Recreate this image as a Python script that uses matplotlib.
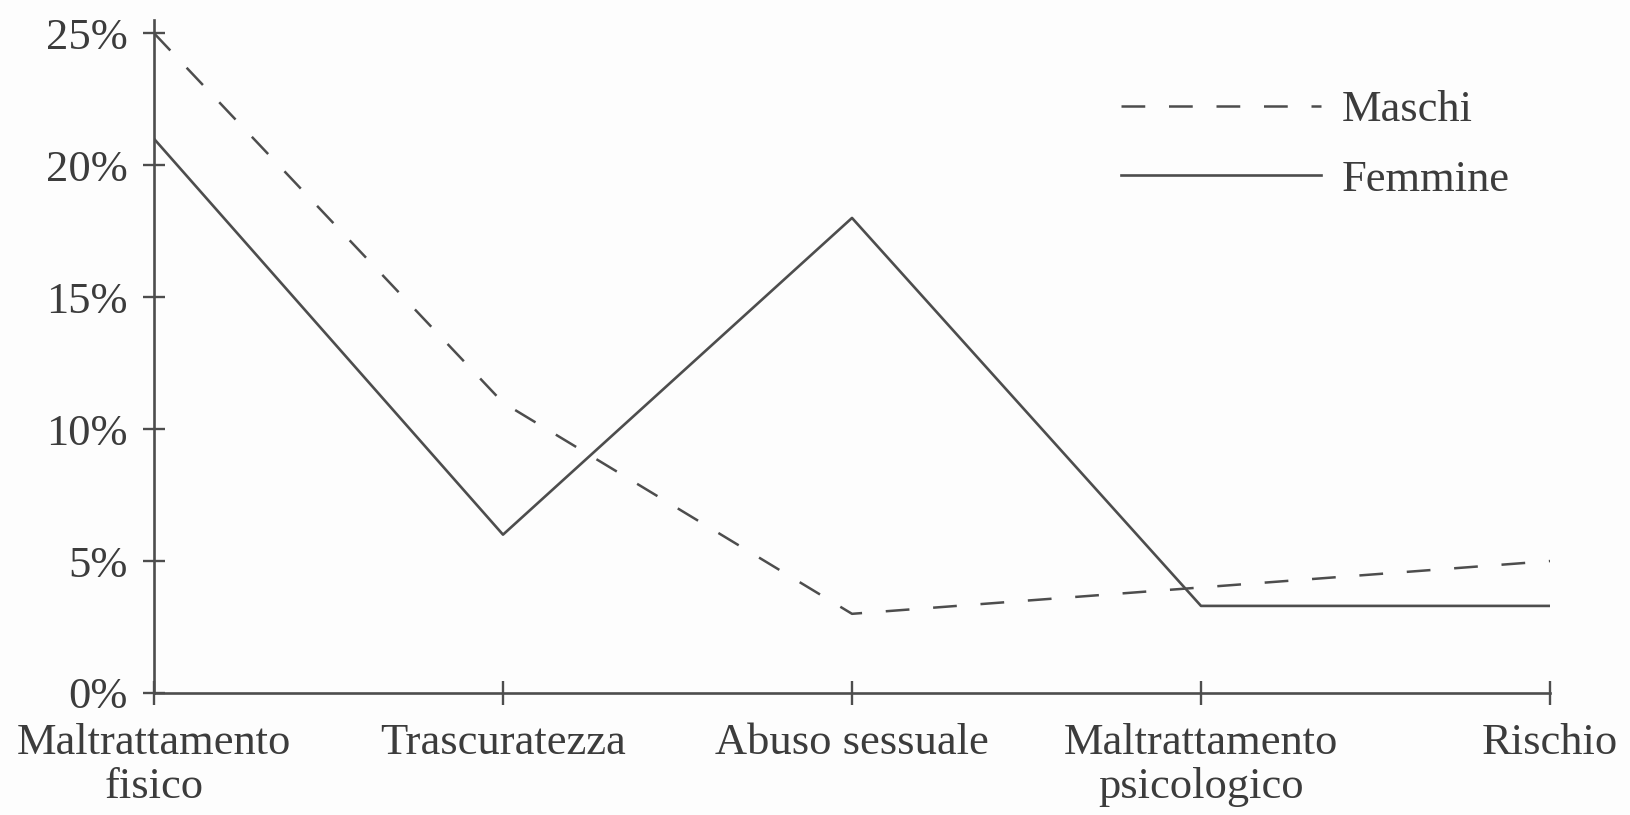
import matplotlib
matplotlib.use("Agg")
import matplotlib.pyplot as plt
from matplotlib.ticker import FuncFormatter

categories = ["Maltrattamento\nfisico", "Trascuratezza", "Abuso sessuale",
              "Maltrattamento\npsicologico", "Rischio"]
maschi = [25.0, 11.0, 3.0, 4.0, 5.0]
femmine = [21.0, 6.0, 18.0, 3.3, 3.3]
yticks = [0, 5, 10, 15, 20, 25]

ink = "#4d4d4d"
txt = "#3c3c3c"
plt.rcParams['font.family'] = ['Liberation Serif', 'DejaVu Serif']
FS = 32

fig = plt.figure(figsize=(16.31, 8.15), dpi=100, facecolor="#fdfdfd")
ax = fig.add_axes([154/1631, 122/815, 1396/1631, 673/815])
ax.set_facecolor("#fdfdfd")

x = list(range(len(categories)))
ax.plot(x, maschi, color=ink, lw=1.8, dashes=(9.5, 9.5), label="Maschi")
ax.plot(x, femmine, color=ink, lw=1.9, label="Femmine")

ax.set_xlim(0, len(categories) - 1)
ax.set_ylim(0, 25.5)
ax.set_yticks(yticks)
ax.yaxis.set_major_formatter(FuncFormatter(lambda v, p: f"{int(v)}%"))
ax.set_xticks(x)
ax.set_xticklabels(categories, multialignment="center", linespacing=1.12)

for s in ["top", "right"]:
    ax.spines[s].set_visible(False)
for s in ["left", "bottom"]:
    ax.spines[s].set_color(ink)
    ax.spines[s].set_linewidth(1.9)

ax.tick_params(axis="y", direction="inout", length=16, width=1.7, color=ink,
               labelsize=FS, labelcolor=txt, pad=11)
ax.tick_params(axis="x", direction="inout", length=17, width=1.7, color=ink,
               labelsize=FS, labelcolor=txt, pad=13)
for lab in ax.get_xticklabels():
    lab.set_clip_on(False)

leg = ax.legend(loc="upper left", bbox_to_anchor=(1121/1631, 1 - 90/815),
                bbox_transform=fig.transFigure, frameon=False, fontsize=FS,
                handlelength=4.5, handletextpad=0.47, labelspacing=0.67,
                borderpad=0, borderaxespad=0)
for t in leg.get_texts():
    t.set_color(txt)

fig.savefig("out.png", dpi=100, facecolor=fig.get_facecolor())
